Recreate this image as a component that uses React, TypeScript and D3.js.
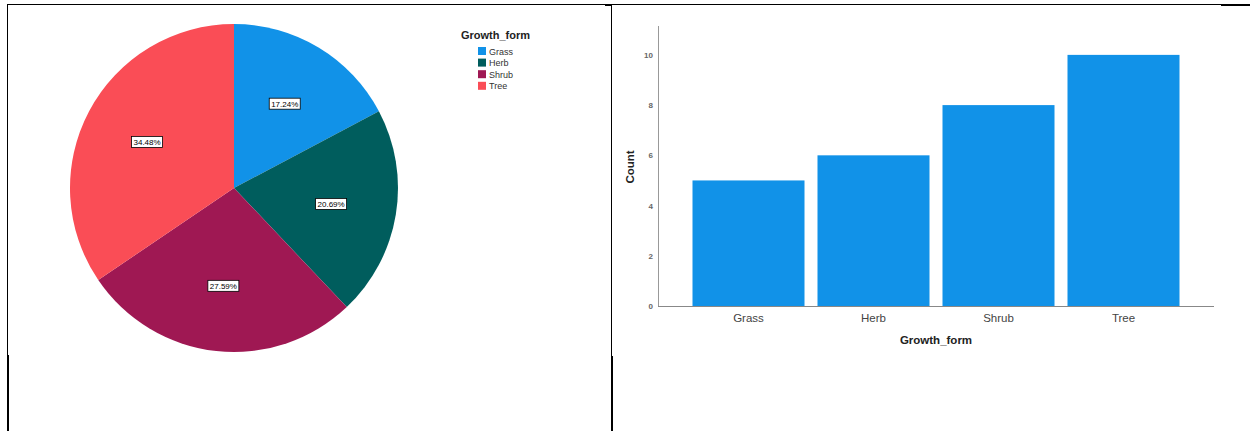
import React from "react";
import * as d3 from "d3";

const categories = ["Grass", "Herb", "Shrub", "Tree"];
const counts = [5, 6, 8, 10];
const colors = ["#1192e8", "#005d5d", "#9f1853", "#fa4d56"];
const yTicks = [0, 2, 4, 6, 8, 10];
const legendTitle = "Growth_form";
const xTitle = "Growth_form";
const yTitle = "Count";

const FONT = "'Liberation Sans', Arial, sans-serif";

export default function App() {
  const total = d3.sum(counts);
  const cx = 234, cy = 188, r = 164;
  const pie = d3.pie<number>().sort(null).value((d) => d)(counts);
  const arc = d3.arc<d3.PieArcDatum<number>>().innerRadius(0).outerRadius(r);
  const labelArc = d3.arc<d3.PieArcDatum<number>>().innerRadius(r * 0.6).outerRadius(r * 0.6);

  const x = d3.scaleBand<string>().domain(categories).range([658, 1214]).paddingInner(0.104).paddingOuter(0.276);
  const y = d3.scaleLinear().domain([0, 11.15]).range([306, 26]);

  return (
    <div style={{ position: "absolute", left: 0, top: 0 }}>
      <svg width={1250} height={431} style={{ display: "block", fontFamily: FONT }}>
        <rect x={0} y={0} width={1250} height={431} fill="#fff" />
        {/* frame lines */}
        <line x1={7} x2={1221} y1={4.5} y2={4.5} stroke="#000" strokeWidth={1} />
        <line x1={1221} x2={1250} y1={5} y2={5} stroke="#000" strokeWidth={2} />
        <line x1={605} x2={611} y1={5} y2={5} stroke="#000" strokeWidth={2} />
        <line x1={7.5} x2={7.5} y1={4} y2={356} stroke="#000" strokeWidth={1} />
        <line x1={8} x2={8} y1={355} y2={431} stroke="#000" strokeWidth={2} />
        <line x1={611.5} x2={611.5} y1={4} y2={357} stroke="#000" strokeWidth={1} />
        <line x1={612} x2={612} y1={356} y2={431} stroke="#000" strokeWidth={2} />

        {/* pie */}
        <g transform={`translate(${cx},${cy})`}>
          {pie.map((p, i) => (
            <path key={i} d={arc(p) || ""} fill={colors[i]} />
          ))}
          {pie.map((p, i) => {
            const [lx, ly] = labelArc.centroid(p);
            const txt = ((counts[i] / total) * 100).toFixed(2) + "%";
            return (
              <g key={"l" + i} transform={`translate(${lx},${ly})`}>
                <rect x={-15.5} y={-5.5} width={31} height={11} fill="#fff" stroke="#000" strokeWidth={0.8} />
                <text textAnchor="middle" y={3} fontSize={8} fill="#000">{txt}</text>
              </g>
            );
          })}
        </g>

        {/* legend */}
        <text x={461} y={39} fontSize={11} fontWeight="bold" fill="#222">{legendTitle}</text>
        {categories.map((c, i) => (
          <g key={c} transform={`translate(478,${47 + i * 11.6})`}>
            <rect width={8} height={8} fill={colors[i]} />
            <text x={11} y={7.5} fontSize={9} fill="#333">{c}</text>
          </g>
        ))}

        {/* bar chart */}
        {categories.map((c, i) => (
          <rect key={c} x={x(c)} y={y(counts[i])} width={x.bandwidth()} height={y(0) - y(counts[i])} fill="#1192e8" />
        ))}
        <line x1={658.5} x2={658.5} y1={26} y2={306} stroke="#999" strokeWidth={1} />
        <line x1={658} x2={1214} y1={306.5} y2={306.5} stroke="#888" strokeWidth={1} />
        {yTicks.map((t) => (
          <text key={t} x={653} y={y(t) + 3} textAnchor="end" fontSize={8} fontWeight="bold" fill="#666">{t}</text>
        ))}
        {categories.map((c) => (
          <text key={"x" + c} x={(x(c) || 0) + x.bandwidth() / 2} y={322} textAnchor="middle" fontSize={11.5} fill="#444">{c}</text>
        ))}
        <text x={936} y={344} textAnchor="middle" fontSize={11.5} fontWeight="bold" fill="#222">{xTitle}</text>
        <text transform="translate(634,167) rotate(-90)" textAnchor="middle" fontSize={11.5} fontWeight="bold" fill="#222">{yTitle}</text>
      </svg>
    </div>
  );
}
